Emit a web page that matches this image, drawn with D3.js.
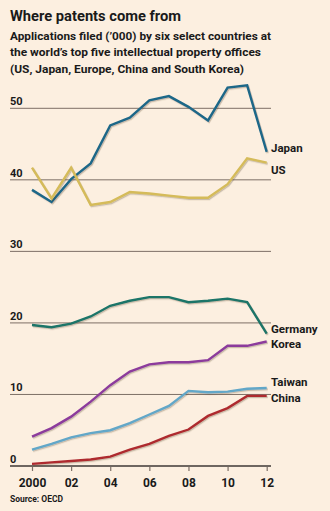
<!DOCTYPE html>
<html>
<head>
<meta charset="utf-8">
<script src="https://cdn.jsdelivr.net/npm/d3@7"></script>
<style>
  body { margin: 0; background: #fcefe0; }
  svg { display: block; }
  text { font-family: Roboto, "Liberation Sans", sans-serif; font-weight: bold; fill: #1a1a1a; }
</style>
</head>
<body>
<svg id="chart"></svg>
<script>
// Datos
var years = [2000, 2001, 2002, 2003, 2004, 2005, 2006, 2007, 2008, 2009, 2010, 2011, 2012];
var japan = [38.6, 36.9, 40.1, 42.3, 47.6, 48.7, 51.1, 51.7, 50.2, 48.3, 52.9, 53.2, 43.9];
var us = [41.7, 37.4, 41.7, 36.5, 36.9, 38.3, 38.1, 37.8, 37.5, 37.5, 39.4, 43.0, 42.4];
var germany = [19.7, 19.4, 19.9, 20.9, 22.4, 23.1, 23.6, 23.6, 22.9, 23.1, 23.4, 22.9, 18.5];
var korea = [4.1, 5.3, 6.9, 9.0, 11.3, 13.2, 14.2, 14.5, 14.5, 14.8, 16.8, 16.8, 17.4];
var taiwan = [2.3, 3.1, 4.0, 4.6, 5.0, 6.0, 7.2, 8.4, 10.5, 10.3, 10.4, 10.8, 10.9];
var china = [0.3, 0.5, 0.7, 0.9, 1.3, 2.3, 3.1, 4.2, 5.1, 7.0, 8.1, 9.8, 9.8];
var yTicks = [0, 10, 20, 30, 40, 50];
var xTicks = [2000, 2002, 2004, 2006, 2008, 2010, 2012];
var xTickLabels = ['2000', '02', '04', '06', '08', '10', '12'];

var series = [
    { name: 'Japan', values: japan, color: '#1f6788', labelY: 151.7 },
    { name: 'US', values: us, color: '#d5bb5a', labelY: 174 },
    { name: 'Germany', values: germany, color: '#1a7468', labelY: 333.3 },
    { name: 'Korea', values: korea, color: '#8c3b9c', labelY: 347.5 },
    { name: 'Taiwan', values: taiwan, color: '#62a7c8', labelY: 385.7 },
    { name: 'China', values: china, color: '#ae2a2f', labelY: 401.5 }
];

// Ajustes del canvas
var w = 330,
    h = 511;

var svg = d3.select('#chart')
    .attr('width', w)
    .attr('height', h);

svg.append('rect')
    .attr('width', w)
    .attr('height', h)
    .attr('fill', '#fcefe0');

var defs = svg.append('defs');
defs.append('filter')
    .attr('id', 'sombra')
    .attr('x', '-10%').attr('y', '-10%')
    .attr('width', '120%').attr('height', '120%')
    .append('feDropShadow')
    .attr('dx', 1)
    .attr('dy', 1.2)
    .attr('stdDeviation', 0.7)
    .attr('flood-color', '#5a4630')
    .attr('flood-opacity', 0.3);

var xScale = d3.scaleLinear()
    .domain([2000, 2012])
    .range([32, 266.7]);
var yScale = d3.scaleLinear()
    .domain([0, 50])
    .range([466, 108.3]);

// Titulos
svg.append('text')
    .attr('x', 10)
    .attr('y', 21)
    .attr('font-size', 14.5)
    .attr('textLength', 171)
    .attr('lengthAdjust', 'spacingAndGlyphs')
    .text('Where patents come from');

var subtitle = [
    'Applications filed (\u2019000) by six select countries at',
    'the world\u2019s top five intellectual property offices',
    '(US, Japan, Europe, China and South Korea)'
];
var subLen = [261, 251, 234];
svg.selectAll('.sub')
    .data(subtitle)
    .enter()
    .append('text')
    .attr('class', 'sub')
    .attr('x', 10)
    .attr('y', function(d, i) { return 39.5 + i * 16.5; })
    .attr('font-size', 11)
    .attr('textLength', function(d, i) { return subLen[i]; })
    .attr('lengthAdjust', 'spacingAndGlyphs')
    .text(function(d) { return d; });

// Rejilla
svg.selectAll('.grid')
    .data(yTicks.filter(function(d) { return d > 0; }))
    .enter()
    .append('line')
    .attr('class', 'grid')
    .attr('x1', 10)
    .attr('x2', 271)
    .attr('y1', function(d) { return yScale(d); })
    .attr('y2', function(d) { return yScale(d); })
    .attr('stroke', '#7d6f66')
    .attr('stroke-width', 1);

svg.selectAll('.ylab')
    .data(yTicks)
    .enter()
    .append('text')
    .attr('class', 'ylab')
    .attr('x', 10)
    .attr('y', function(d) { return yScale(d) - 3; })
    .attr('font-size', 11)
    .text(function(d) { return d; });

// Eje x
var xAxis = d3.axisBottom(xScale)
    .tickValues(xTicks)
    .tickSize(5)
    .tickFormat(function(d, i) { return xTickLabels[i]; });

var gx = svg.append('g')
    .attr('transform', 'translate(0,' + yScale(0) + ')')
    .call(xAxis);
gx.select('.domain').remove();
gx.selectAll('.tick line')
    .attr('stroke', '#7d6f66')
    .attr('stroke-width', 1.2);
gx.selectAll('.tick text')
    .attr('y', 12)
    .attr('dy', '0.71em')
    .attr('font-size', 12)
    .attr('font-family', 'Roboto, sans-serif')
    .attr('font-weight', 'bold')
    .attr('fill', '#1a1a1a');

svg.append('line')
    .attr('x1', 10)
    .attr('x2', 271)
    .attr('y1', yScale(0))
    .attr('y2', yScale(0))
    .attr('stroke', '#6e6660')
    .attr('stroke-width', 2);

// Lineas
var line = d3.line()
    .x(function(d, i) { return xScale(years[i]); })
    .y(function(d) { return yScale(d); });

svg.selectAll('.serie')
    .data(series)
    .enter()
    .append('path')
    .attr('class', 'serie')
    .attr('d', function(d) { return line(d.values); })
    .attr('fill', 'none')
    .attr('stroke', function(d) { return d.color; })
    .attr('stroke-width', 2.4)
    .attr('stroke-linejoin', 'miter')
    .attr('filter', 'url(#sombra)');

svg.selectAll('.nombre')
    .data(series)
    .enter()
    .append('text')
    .attr('class', 'nombre')
    .attr('x', 271)
    .attr('y', function(d) { return d.labelY; })
    .attr('font-size', 11.5)
    .text(function(d) { return d.name; });

// Fuente
svg.append('text')
    .attr('x', 10)
    .attr('y', 501.5)
    .attr('font-size', 8.5)
    .text('Source: OECD');
</script>
</body>
</html>
